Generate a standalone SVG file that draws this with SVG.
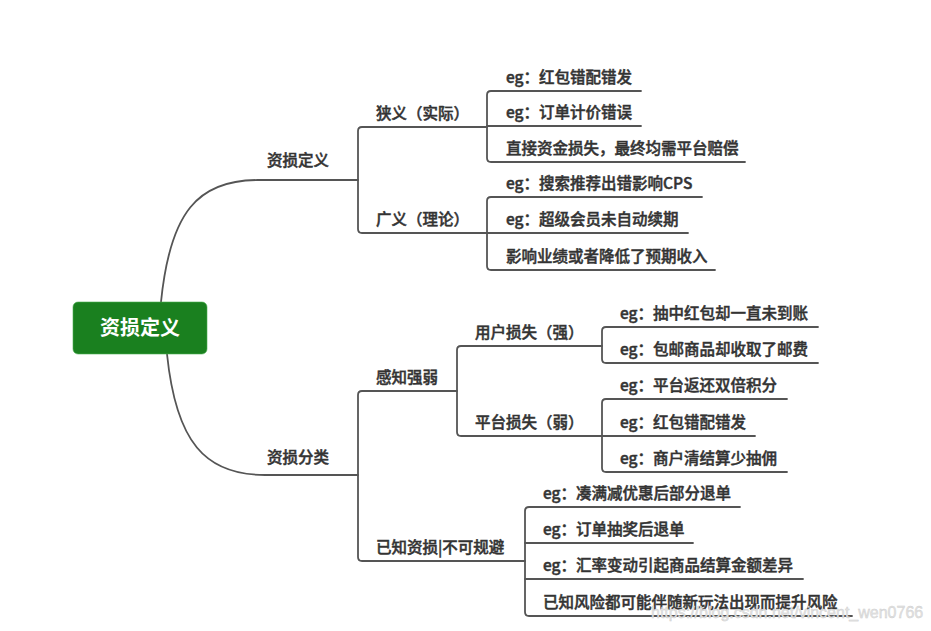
<svg xmlns="http://www.w3.org/2000/svg" width="931" height="631" viewBox="0 0 931 631">
<style>
.t{font-family:"Noto Sans CJK SC","Noto Sans",sans-serif;font-size:15.5px;fill:#333;stroke:#333;stroke-width:0.45;font-weight:500}
.ln{fill:none;stroke:#555;stroke-width:1.8;stroke-linecap:round;stroke-linejoin:round}
.root{font-family:"Noto Sans CJK SC","Noto Sans",sans-serif;font-size:20px;font-weight:700;fill:#fff}
.wm{font-family:"Liberation Sans",Arial,sans-serif;font-size:16px;fill:#e4e4e4;stroke:#cccccc;stroke-width:0.4}
</style>
<rect width="931" height="631" fill="#fff"/>
<g id="connectors">
<path class="ln" d="M161,302 C170,212 198,180 258,180 H358"/>
<path class="ln" d="M167,354 C176,442 205,475 265,475 H358"/>
<path class="ln" d="M487,127 H362 Q358,127 358,131 V229 Q358,233 362,233 H487"/>
<path class="ln" d="M457,391 H362 Q358,391 358,395 V557 Q358,561 362,561 H525"/>
<path class="ln" d="M641,91 H491 Q487,91 487,95 V158 Q487,162 491,162 H745"/>
<path class="ln" d="M487,126 H641"/>
<path class="ln" d="M702,197 H491 Q487,197 487,201 V266 Q487,270 491,270 H715"/>
<path class="ln" d="M487,233 H688"/>
<path class="ln" d="M602,346 H461 Q457,346 457,350 V432 Q457,436 461,436 H602"/>
<path class="ln" d="M818,327 H606 Q602,327 602,331 V359 Q602,363 606,363 H818"/>
<path class="ln" d="M787,399 H606 Q602,399 602,403 V468 Q602,472 606,472 H787"/>
<path class="ln" d="M602,436 H755"/>
<path class="ln" d="M740,507 H529 Q525,507 525,511 V612 Q525,616 529,616 H852"/>
<path class="ln" d="M525,543 H693"/>
<path class="ln" d="M525,579 H803"/>
</g>
<g id="root">
<rect x="73" y="302" width="134" height="52" rx="5" fill="#1a801f" stroke="#4caf50" stroke-width="0.6"/>
<text class="root" x="140" y="334.5" text-anchor="middle">资损定义</text>
</g>
<g id="n-def"><text class="t" x="267" y="165.5">资损定义</text></g>
<g id="n-cls"><text class="t" x="267" y="462.5">资损分类</text></g>
<g id="n-narrow"><text class="t" x="376" y="118.5">狭义（实际）</text></g>
<g id="n-broad"><text class="t" x="376" y="224.5">广义（理论）</text></g>
<g id="n-perc"><text class="t" x="376" y="382.5">感知强弱</text></g>
<g id="n-known"><text class="t" x="376" y="552.5">已知资损|不可规避</text></g>
<g id="n-user"><text class="t" x="475" y="337.5">用户损失（强）</text></g>
<g id="n-plat"><text class="t" x="475" y="427.5">平台损失（弱）</text></g>
<g id="l1"><text class="t" x="506" y="82.5">eg：红包错配错发</text></g>
<g id="l2"><text class="t" x="506" y="117.5">eg：订单计价错误</text></g>
<g id="l3"><text class="t" x="506" y="153.5">直接资金损失，最终均需平台赔偿</text></g>
<g id="l4"><text class="t" x="506" y="188.5">eg：搜索推荐出错影响CPS</text></g>
<g id="l5"><text class="t" x="506" y="224.5">eg：超级会员未自动续期</text></g>
<g id="l6"><text class="t" x="506" y="261.5">影响业绩或者降低了预期收入</text></g>
<g id="l7"><text class="t" x="620" y="318.5">eg：抽中红包却一直未到账</text></g>
<g id="l8"><text class="t" x="620" y="354.5">eg：包邮商品却收取了邮费</text></g>
<g id="l9"><text class="t" x="620" y="390.5">eg：平台返还双倍积分</text></g>
<g id="l10"><text class="t" x="620" y="427.5">eg：红包错配错发</text></g>
<g id="l11"><text class="t" x="620" y="463.5">eg：商户清结算少抽佣</text></g>
<g id="l12"><text class="t" x="543" y="498.5">eg：凑满减优惠后部分退单</text></g>
<g id="l13"><text class="t" x="543" y="534.5">eg：订单抽奖后退单</text></g>
<g id="l14"><text class="t" x="543" y="570.5">eg：汇率变动引起商品结算金额差异</text></g>
<g id="l15"><text class="t" x="543" y="607.5">已知风险都可能伴随新玩法出现而提升风险</text></g>
<text class="wm" x="651" y="618">https://blog.csdn.net/vincent_wen0766</text>
</svg>
